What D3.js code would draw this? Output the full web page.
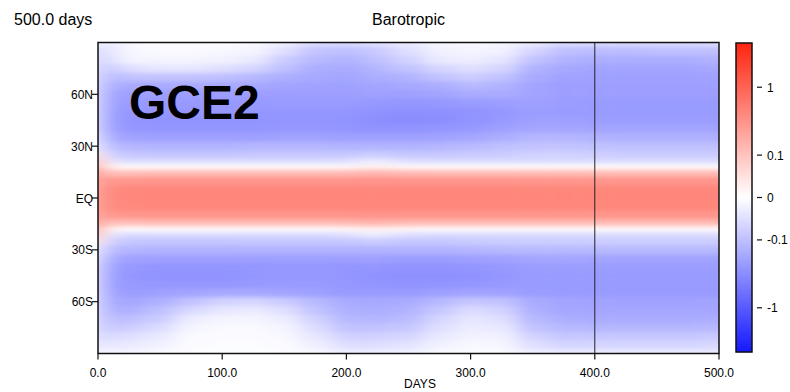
<!DOCTYPE html>
<html>
<head>
<meta charset="utf-8">
<script src="https://cdn.jsdelivr.net/npm/d3@7"></script>
<style>
  body { margin: 0; background: #fff; }
  svg { display: block; }
  text { font-family: "Liberation Sans", Arial, Helvetica, sans-serif; fill: #000; }
</style>
</head>
<body>
<div id="chart"></div>
<script>
// time axis (days) and latitude rows of the field
const days = [0, 4, 10, 25, 50, 75, 100, 125, 150, 175, 200, 215, 225, 250, 275, 300, 325, 350, 375, 400, 425, 450, 475, 500];
const lats = [90, 85, 80, 75, 70, 65, 60, 55, 50, 45, 40, 35, 30, 25, 21, 18, 15, 10, 5, 0,
  -5, -10, -15, -18, -21, -25, -30, -35, -40, -45, -50, -55, -60, -65, -70, -75, -80, -85, -90];

// one row per latitude, one value per day column
const field = [
  [-0.01,-0.02,-0.02,-0.005,-0.003,-0.003,-0.003,-0.005,-0.015,-0.04,-0.045,-0.04,-0.03,-0.02,-0.008,-0.005,-0.008,-0.02,-0.04,-0.045,-0.045,-0.045,-0.045,-0.04],
  [-0.035,-0.035,-0.025,-0.007,-0.005,-0.005,-0.006,-0.01,-0.035,-0.09,-0.1,-0.09,-0.07,-0.035,-0.013,-0.009,-0.013,-0.05,-0.1,-0.11,-0.11,-0.1,-0.1,-0.1],
  [-0.035,-0.05,-0.035,-0.01,-0.01,-0.01,-0.013,-0.02,-0.07,-0.12,-0.14,-0.12,-0.09,-0.055,-0.02,-0.016,-0.025,-0.09,-0.14,-0.16,-0.16,-0.16,-0.16,-0.14],
  [-0.035,-0.07,-0.07,-0.035,-0.025,-0.025,-0.035,-0.05,-0.1,-0.16,-0.17,-0.16,-0.12,-0.09,-0.05,-0.035,-0.05,-0.14,-0.18,-0.2,-0.2,-0.2,-0.2,-0.18],
  [-0.035,-0.09,-0.12,-0.09,-0.09,-0.09,-0.1,-0.12,-0.16,-0.18,-0.2,-0.17,-0.16,-0.14,-0.09,-0.065,-0.09,-0.17,-0.21,-0.22,-0.22,-0.22,-0.22,-0.21],
  [-0.035,-0.12,-0.16,-0.17,-0.17,-0.17,-0.18,-0.18,-0.2,-0.21,-0.22,-0.2,-0.2,-0.18,-0.16,-0.12,-0.14,-0.2,-0.23,-0.23,-0.23,-0.23,-0.23,-0.22],
  [-0.035,-0.14,-0.2,-0.22,-0.23,-0.23,-0.23,-0.23,-0.23,-0.23,-0.23,-0.22,-0.22,-0.22,-0.2,-0.17,-0.17,-0.2,-0.23,-0.23,-0.23,-0.23,-0.23,-0.23],
  [-0.035,-0.15,-0.22,-0.25,-0.26,-0.26,-0.26,-0.26,-0.25,-0.25,-0.25,-0.26,-0.27,-0.28,-0.27,-0.25,-0.24,-0.22,-0.24,-0.25,-0.25,-0.25,-0.25,-0.25],
  [-0.035,-0.15,-0.24,-0.27,-0.28,-0.28,-0.28,-0.28,-0.28,-0.28,-0.28,-0.3,-0.31,-0.32,-0.32,-0.3,-0.27,-0.24,-0.25,-0.25,-0.25,-0.25,-0.25,-0.25],
  [-0.035,-0.15,-0.24,-0.28,-0.3,-0.3,-0.3,-0.29,-0.28,-0.28,-0.29,-0.32,-0.33,-0.34,-0.33,-0.3,-0.26,-0.22,-0.22,-0.24,-0.24,-0.24,-0.24,-0.24],
  [-0.035,-0.14,-0.22,-0.27,-0.28,-0.28,-0.28,-0.28,-0.27,-0.27,-0.28,-0.3,-0.3,-0.3,-0.28,-0.26,-0.22,-0.19,-0.19,-0.2,-0.2,-0.2,-0.2,-0.2],
  [-0.025,-0.1,-0.18,-0.21,-0.22,-0.22,-0.22,-0.22,-0.21,-0.21,-0.22,-0.22,-0.22,-0.22,-0.21,-0.19,-0.16,-0.13,-0.13,-0.14,-0.15,-0.15,-0.15,-0.15],
  [-0.02,-0.06,-0.12,-0.13,-0.14,-0.14,-0.14,-0.13,-0.13,-0.13,-0.14,-0.14,-0.14,-0.14,-0.13,-0.12,-0.1,-0.09,-0.09,-0.095,-0.1,-0.1,-0.1,-0.1],
  [0.04,-0.02,-0.07,-0.08,-0.085,-0.085,-0.085,-0.08,-0.08,-0.08,-0.08,-0.07,-0.07,-0.08,-0.08,-0.075,-0.07,-0.06,-0.06,-0.065,-0.07,-0.07,-0.07,-0.07],
  [0.1,0.03,-0.03,-0.04,-0.04,-0.04,-0.04,-0.04,-0.04,-0.04,-0.035,-0.02,-0.02,-0.035,-0.04,-0.04,-0.04,-0.04,-0.04,-0.04,-0.04,-0.04,-0.04,-0.04],
  [0.15,0.08,0.005,0.003,0.003,0.003,0.003,0.003,0.003,0.003,0.005,0.012,0.012,0.005,0.003,0.003,0.003,0.003,0.003,0.003,0.003,0.003,0.003,0.003],
  [0.2,0.15,0.1,0.11,0.12,0.12,0.12,0.12,0.12,0.12,0.12,0.14,0.14,0.12,0.12,0.12,0.12,0.12,0.12,0.12,0.12,0.12,0.12,0.12],
  [0.2,0.3,0.3,0.31,0.32,0.32,0.32,0.32,0.32,0.32,0.32,0.33,0.33,0.32,0.32,0.32,0.32,0.32,0.32,0.32,0.32,0.32,0.32,0.32],
  [0.2,0.38,0.42,0.44,0.45,0.45,0.45,0.45,0.45,0.45,0.45,0.45,0.45,0.45,0.45,0.45,0.45,0.45,0.45,0.45,0.45,0.45,0.45,0.45],
  [0.2,0.4,0.44,0.46,0.47,0.47,0.47,0.47,0.47,0.47,0.47,0.47,0.47,0.47,0.47,0.47,0.47,0.47,0.47,0.47,0.47,0.47,0.47,0.47],
  [0.2,0.38,0.42,0.44,0.45,0.45,0.45,0.45,0.45,0.45,0.45,0.45,0.45,0.45,0.45,0.45,0.45,0.45,0.45,0.45,0.45,0.45,0.45,0.45],
  [0.2,0.3,0.3,0.31,0.32,0.32,0.32,0.32,0.32,0.32,0.32,0.33,0.33,0.32,0.32,0.32,0.32,0.32,0.32,0.32,0.32,0.32,0.32,0.32],
  [0.2,0.15,0.1,0.11,0.12,0.12,0.12,0.12,0.12,0.12,0.12,0.14,0.14,0.12,0.12,0.12,0.12,0.12,0.12,0.12,0.12,0.12,0.12,0.12],
  [0.15,0.08,0.005,0.003,0.003,0.003,0.003,0.003,0.003,0.003,0.005,0.012,0.012,0.005,0.003,0.003,0.003,0.003,0.003,0.003,0.003,0.003,0.003,0.003],
  [0.1,0.03,-0.03,-0.04,-0.04,-0.04,-0.04,-0.04,-0.04,-0.04,-0.035,-0.02,-0.02,-0.035,-0.04,-0.04,-0.04,-0.04,-0.04,-0.04,-0.04,-0.04,-0.04,-0.04],
  [0.04,-0.02,-0.07,-0.08,-0.085,-0.085,-0.085,-0.08,-0.08,-0.08,-0.08,-0.07,-0.07,-0.08,-0.08,-0.075,-0.07,-0.07,-0.07,-0.07,-0.07,-0.07,-0.07,-0.07],
  [-0.02,-0.06,-0.12,-0.13,-0.14,-0.14,-0.14,-0.14,-0.14,-0.14,-0.14,-0.14,-0.14,-0.14,-0.14,-0.13,-0.12,-0.12,-0.12,-0.12,-0.12,-0.12,-0.12,-0.12],
  [-0.025,-0.1,-0.18,-0.21,-0.22,-0.22,-0.22,-0.22,-0.22,-0.22,-0.22,-0.22,-0.22,-0.23,-0.23,-0.22,-0.21,-0.19,-0.19,-0.2,-0.2,-0.2,-0.2,-0.2],
  [-0.035,-0.14,-0.22,-0.26,-0.28,-0.28,-0.28,-0.28,-0.27,-0.27,-0.28,-0.28,-0.28,-0.3,-0.3,-0.28,-0.26,-0.24,-0.24,-0.24,-0.24,-0.24,-0.24,-0.24],
  [-0.035,-0.15,-0.24,-0.28,-0.3,-0.3,-0.3,-0.28,-0.27,-0.27,-0.28,-0.3,-0.31,-0.32,-0.32,-0.31,-0.28,-0.25,-0.25,-0.25,-0.25,-0.25,-0.25,-0.25],
  [-0.035,-0.15,-0.23,-0.26,-0.27,-0.27,-0.27,-0.26,-0.25,-0.25,-0.27,-0.28,-0.29,-0.3,-0.29,-0.28,-0.26,-0.25,-0.25,-0.25,-0.25,-0.25,-0.25,-0.25],
  [-0.035,-0.14,-0.21,-0.24,-0.22,-0.2,-0.18,-0.18,-0.2,-0.22,-0.25,-0.25,-0.25,-0.25,-0.22,-0.2,-0.21,-0.24,-0.25,-0.25,-0.25,-0.25,-0.25,-0.25],
  [-0.035,-0.13,-0.18,-0.19,-0.15,-0.09,-0.055,-0.05,-0.07,-0.12,-0.17,-0.18,-0.18,-0.17,-0.12,-0.08,-0.09,-0.17,-0.2,-0.21,-0.21,-0.21,-0.21,-0.2],
  [-0.035,-0.11,-0.15,-0.15,-0.1,-0.045,-0.025,-0.02,-0.035,-0.09,-0.15,-0.16,-0.16,-0.14,-0.08,-0.04,-0.055,-0.15,-0.19,-0.19,-0.19,-0.19,-0.19,-0.19],
  [-0.035,-0.09,-0.11,-0.1,-0.07,-0.018,-0.01,-0.01,-0.018,-0.06,-0.12,-0.13,-0.13,-0.11,-0.05,-0.025,-0.035,-0.12,-0.16,-0.17,-0.17,-0.17,-0.17,-0.16],
  [-0.035,-0.07,-0.08,-0.065,-0.04,-0.01,-0.005,-0.005,-0.01,-0.04,-0.09,-0.1,-0.09,-0.08,-0.035,-0.018,-0.022,-0.09,-0.12,-0.13,-0.13,-0.13,-0.13,-0.12],
  [-0.03,-0.045,-0.045,-0.035,-0.022,-0.005,-0.003,-0.003,-0.006,-0.025,-0.055,-0.065,-0.055,-0.05,-0.022,-0.011,-0.013,-0.055,-0.08,-0.08,-0.08,-0.08,-0.08,-0.075],
  [-0.02,-0.025,-0.025,-0.02,-0.012,-0.003,-0.002,-0.002,-0.003,-0.015,-0.035,-0.04,-0.035,-0.03,-0.012,-0.006,-0.008,-0.035,-0.05,-0.05,-0.05,-0.05,-0.05,-0.045],
  [-0.01,-0.01,-0.01,-0.008,-0.005,-0.002,-0.001,-0.001,-0.002,-0.006,-0.015,-0.018,-0.015,-0.012,-0.005,-0.003,-0.004,-0.015,-0.02,-0.02,-0.02,-0.02,-0.02,-0.02]
];

const latTicks = [60, 30, 0, -30, -60];
const latTickLabels = ['60N', '30N', 'EQ', '30S', '60S'];
const dayTicks = [0, 100, 200, 300, 400, 500];
const barTicks = [1, 0.1, 0, -0.1, -1];
const barTickLabels = ['1', '0.1', '0', '-0.1', '-1'];
const markerDay = 400;
const valueMax = 3.8;

const W = 790, H = 392;
const plot = { left: 98, right: 719, top: 42.5, bottom: 353.5 };
const bar = { left: 736, right: 752, top: 43, bottom: 352 };

const svg = d3.select('#chart').append('svg').attr('width', W).attr('height', H);

const x = d3.scaleLinear().domain([0, 500]).range([plot.left, plot.right]);
const y = d3.scaleLinear().domain([90, -90]).range([plot.top, plot.bottom]);
const color = d3.scaleSymlog().constant(0.04)
  .domain([-valueMax, 0, valueMax])
  .range(['#1418ff', '#ffffff', '#ff2410'])
  .clamp(true);
const barY = d3.scaleSymlog().constant(0.04).domain([-valueMax, valueMax]).range([bar.bottom, bar.top]);

// cell edges halfway between neighbouring samples
function edges(arr) {
  const e = [arr[0]];
  for (let i = 1; i < arr.length; i++) e.push((arr[i - 1] + arr[i]) / 2);
  e.push(arr[arr.length - 1]);
  return e;
}
const dayEdges = edges(days);
const latEdges = edges(lats);

const defs = svg.append('defs');
defs.append('clipPath').attr('id', 'plot-clip')
  .append('rect')
  .attr('x', plot.left).attr('y', plot.top)
  .attr('width', plot.right - plot.left).attr('height', plot.bottom - plot.top);
defs.append('filter').attr('id', 'smooth')
  .attr('filterUnits', 'userSpaceOnUse')
  .attr('x', plot.left - 50).attr('y', plot.top - 50)
  .attr('width', plot.right - plot.left + 100).attr('height', plot.bottom - plot.top + 100)
  .append('feGaussianBlur').attr('stdDeviation', '10 2.2');

const pad = 40;
const cells = [];
lats.forEach((lat, i) => {
  days.forEach((d, j) => {
    let x0 = x(dayEdges[j]), x1 = x(dayEdges[j + 1]);
    let y0 = y(latEdges[i]), y1 = y(latEdges[i + 1]);
    if (j === 0) x0 -= pad;
    if (j === days.length - 1) x1 += pad;
    if (i === 0) y0 -= pad;
    if (i === lats.length - 1) y1 += pad;
    cells.push({ x0, x1, y0, y1, v: field[i][j] });
  });
});

svg.append('g').attr('clip-path', 'url(#plot-clip)')
  .append('g').attr('filter', 'url(#smooth)')
  .selectAll('rect').data(cells).join('rect')
  .attr('x', d => d.x0).attr('y', d => d.y0)
  .attr('width', d => d.x1 - d.x0 + 0.5).attr('height', d => d.y1 - d.y0 + 0.5)
  .attr('fill', d => color(d.v));

// marker line
svg.append('line')
  .attr('x1', x(markerDay)).attr('x2', x(markerDay))
  .attr('y1', plot.top).attr('y2', plot.bottom)
  .attr('stroke', '#222').attr('stroke-width', 1);

// frame
svg.append('rect')
  .attr('x', plot.left).attr('y', plot.top)
  .attr('width', plot.right - plot.left).attr('height', plot.bottom - plot.top)
  .attr('fill', 'none').attr('stroke', '#111').attr('stroke-width', 1.5);

// x axis
const xAxis = svg.append('g');
dayTicks.forEach(d => {
  xAxis.append('line')
    .attr('x1', x(d)).attr('x2', x(d))
    .attr('y1', plot.bottom).attr('y2', plot.bottom + 6)
    .attr('stroke', '#111').attr('stroke-width', 1.2);
  xAxis.append('text')
    .attr('x', x(d)).attr('y', plot.bottom + 23)
    .attr('text-anchor', 'middle').attr('font-size', 12)
    .text(d.toFixed(1));
});
svg.append('text')
  .attr('x', 420).attr('y', 388)
  .attr('text-anchor', 'middle').attr('font-size', 12)
  .text('DAYS');

// y axis
const yAxis = svg.append('g');
latTicks.forEach((lat, i) => {
  yAxis.append('line')
    .attr('x1', plot.left - 6).attr('x2', plot.left)
    .attr('y1', y(lat)).attr('y2', y(lat))
    .attr('stroke', '#111').attr('stroke-width', 1.2);
  yAxis.append('text')
    .attr('x', plot.left - 5).attr('y', y(lat) + 4.5)
    .attr('text-anchor', 'end').attr('font-size', 12)
    .text(latTickLabels[i]);
});

// colour bar
const barRows = d3.range(bar.top, bar.bottom, 1);
svg.append('g').selectAll('rect').data(barRows).join('rect')
  .attr('x', bar.left).attr('y', d => d)
  .attr('width', bar.right - bar.left).attr('height', 1.2)
  .attr('fill', d => color(barY.invert(d + 0.5)));
svg.append('rect')
  .attr('x', bar.left).attr('y', bar.top)
  .attr('width', bar.right - bar.left).attr('height', bar.bottom - bar.top)
  .attr('fill', 'none').attr('stroke', '#111').attr('stroke-width', 1.5);
barTicks.forEach((v, i) => {
  svg.append('line')
    .attr('x1', bar.right + 5).attr('x2', bar.right + 10)
    .attr('y1', barY(v)).attr('y2', barY(v))
    .attr('stroke', '#111').attr('stroke-width', 1.2);
  svg.append('text')
    .attr('x', bar.right + 15).attr('y', barY(v) + 4.5)
    .attr('font-size', 12)
    .text(barTickLabels[i]);
});

// titles
svg.append('text').attr('x', 14).attr('y', 25).attr('font-size', 16).text('500.0 days');
svg.append('text').attr('x', (plot.left + plot.right) / 2).attr('y', 25)
  .attr('text-anchor', 'middle').attr('font-size', 16).text('Barotropic');
svg.append('text').attr('x', 129).attr('y', 119)
  .attr('font-size', 48).attr('font-weight', 'bold').text('GCE2');
</script>
</body>
</html>
